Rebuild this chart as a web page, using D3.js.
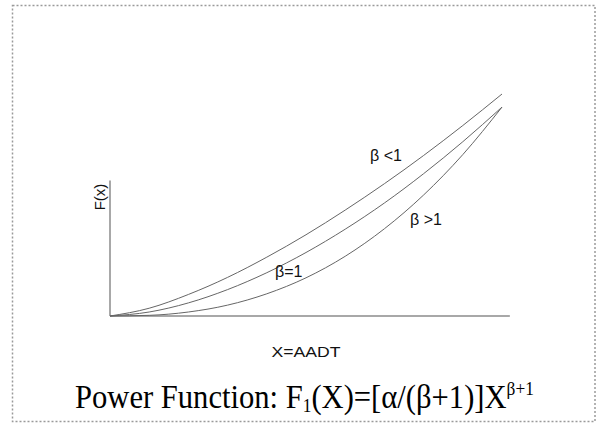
<!DOCTYPE html>
<html>
<head>
<meta charset="utf-8">
<script src="https://cdn.jsdelivr.net/npm/d3@7/dist/d3.min.js"></script>
<style>
  html, body { margin: 0; padding: 0; background: #fff; }
  svg { display: block; }
</style>
</head>
<body>
<svg id="chart" width="596" height="423"></svg>
<script>
// Sample positions along X (AADT), arbitrary units
const xValues = [0, 1, 2, 3, 4, 5, 6, 7, 8, 9, 10];
// F(x) for each shape parameter
const betaBelowOne = [0, 0.35, 0.97, 1.74, 2.65, 3.66, 4.77, 5.96, 7.23, 8.58, 10];
const betaEqualOne = [0, 0.18, 0.59, 1.19, 1.95, 2.86, 3.91, 5.09, 6.41, 7.85, 9.41];
const betaAboveOne = [0, 0.03, 0.18, 0.49, 1.00, 1.72, 2.69, 3.93, 5.45, 7.27, 9.41];
const seriesNames = ["β <1", "β=1", "β >1"];
// Axis extents (data units)
const xAxisMax = 10.2;
const yAxisMax = 6.1;

const svg = d3.select("#chart");

// Dotted frame around the figure
svg.append("rect")
  .attr("x", 12.5).attr("y", 5.5)
  .attr("width", 582.5).attr("height", 416)
  .attr("fill", "none")
  .attr("stroke", "#9a9a9a")
  .attr("stroke-width", 1.5)
  .attr("stroke-dasharray", "2,2");

const x = d3.scaleLinear().domain([0, 10]).range([110, 502]);
const y = d3.scaleLinear().domain([0, 10]).range([316, 94]);

// Axes drawn as bare lines (no ticks)
const axisColor = "#a8a8a8";
svg.append("line")
  .attr("x1", x(0)).attr("x2", x(xAxisMax))
  .attr("y1", y(0)).attr("y2", y(0))
  .attr("stroke", axisColor).attr("stroke-width", 2);
svg.append("line")
  .attr("x1", x(0)).attr("x2", x(0))
  .attr("y1", y(0)).attr("y2", y(yAxisMax))
  .attr("stroke", axisColor).attr("stroke-width", 2);

const line = d3.line()
  .x((d, i) => x(xValues[i]))
  .y(d => y(d))
  .curve(d3.curveMonotoneX);

[betaBelowOne, betaEqualOne, betaAboveOne].forEach(vals => {
  svg.append("path")
    .attr("d", line(vals))
    .attr("fill", "none")
    .attr("stroke", "#666")
    .attr("stroke-width", 1);
});

// Curve labels
const labelFont = "Arial, 'Liberation Sans', sans-serif";
const labelPos = [[370, 161], [275, 277], [410, 225]];
seriesNames.forEach((name, i) => {
  svg.append("text")
    .attr("x", labelPos[i][0]).attr("y", labelPos[i][1])
    .attr("font-family", labelFont)
    .attr("font-size", 16)
    .attr("fill", "#111")
    .text(name);
});

// Axis titles
svg.append("text")
  .attr("transform", "translate(105,197) rotate(-90)")
  .attr("text-anchor", "middle")
  .attr("font-family", labelFont)
  .attr("font-size", 15)
  .attr("fill", "#111")
  .text("F(x)");

svg.append("text")
  .attr("x", 306).attr("y", 357)
  .attr("text-anchor", "middle")
  .attr("font-family", labelFont)
  .attr("font-size", 15)
  .attr("textLength", 69)
  .attr("lengthAdjust", "spacingAndGlyphs")
  .attr("fill", "#111")
  .text("X=AADT");

// Formula caption
const cap = svg.append("text")
  .attr("transform", "translate(75,408) scale(1.02,1.12)")
  .attr("font-family", "'Liberation Serif', 'Times New Roman', serif")
  .attr("font-size", 30)
  .attr("fill", "#000");
cap.append("tspan").text("Power Function: F");
cap.append("tspan").attr("font-size", 17).attr("dy", 4).text("1");
cap.append("tspan").attr("dy", -4).text("(X)=[α/(β+1)]X");
cap.append("tspan").attr("font-size", 17).attr("dy", -12).text("β+1");
</script>
</body>
</html>
